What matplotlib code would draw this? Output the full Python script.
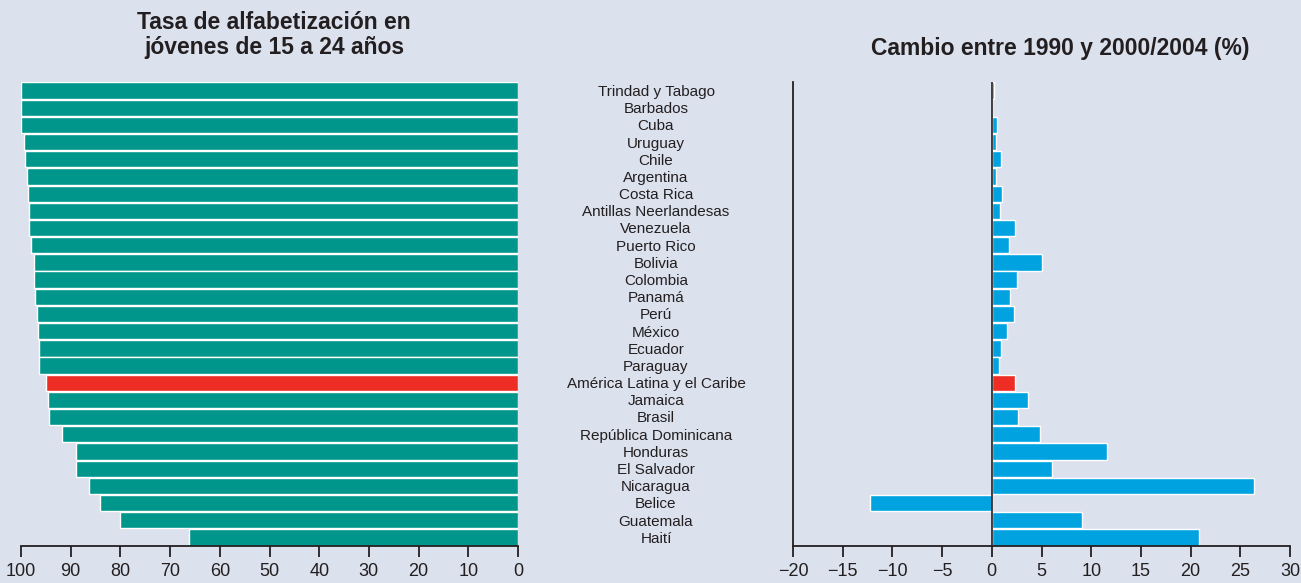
import matplotlib
matplotlib.use("Agg")
import matplotlib.pyplot as plt
import matplotlib.transforms as mtransforms
from matplotlib import font_manager

names = {f.name for f in font_manager.fontManager.ttflist}
FONT = 'Liberation Sans Narrow' if 'Liberation Sans Narrow' in names else 'Liberation Sans'
TFONT = 'Liberation Sans'
plt.rcParams['font.family'] = [FONT, 'DejaVu Sans']

countries = ["Trindad y Tabago", "Barbados", "Cuba", "Uruguay", "Chile", "Argentina",
             "Costa Rica", "Antillas Neerlandesas", "Venezuela", "Puerto Rico", "Bolivia",
             "Colombia", "Panamá", "Perú", "México", "Ecuador", "Paraguay",
             "América Latina y el Caribe", "Jamaica", "Brasil", "República Dominicana",
             "Honduras", "El Salvador", "Nicaragua", "Belice", "Guatemala", "Haití"]
literacy = [99.9, 99.9, 99.9, 99.3, 99.1, 98.7, 98.5, 98.4, 98.3, 97.9, 97.4,
            97.3, 97.1, 96.7, 96.6, 96.4, 96.3, 94.9, 94.6, 94.4, 91.8,
            88.9, 88.9, 86.3, 84.2, 80.1, 66.2]
change = [0.2, 0.0, 0.5, 0.4, 0.9, 0.4, 1.0, 0.8, 2.3, 1.7, 5.1,
          2.5, 1.8, 2.2, 1.5, 0.9, 0.7, 2.3, 3.6, 2.6, 4.8,
          11.6, 6.1, 26.4, -12.3, 9.1, 20.8]
highlight = "América Latina y el Caribe"
left_ticks = [100, 90, 80, 70, 60, 50, 40, 30, 20, 10, 0]
right_ticks = [-20, -15, -10, -5, 0, 5, 10, 15, 20, 25, 30]
title_left = "Tasa de alfabetización en\njóvenes de 15 a 24 años"
title_right = "Cambio entre 1990 y 2000/2004 (%)"

BG = "#DCE1EE"
TEAL = "#00968C"
BLUE = "#00A3E0"
RED = "#EE2D24"
INK = "#231F20"

W, H = 1301, 583
fig = plt.figure(figsize=(W / 100, H / 100), dpi=100, facecolor=BG)

n = len(countries)
ypos = [n - 1 - i for i in range(n)]

def px_axes(x0, x1, ytop, ybot):
    return fig.add_axes([x0 / W, 1 - ybot / H, (x1 - x0) / W, (ybot - ytop) / H])

axL = px_axes(21, 518, 82, 546)
axR = px_axes(793, 1290, 82, 546)

for ax in (axL, axR):
    ax.set_facecolor("none")
    ax.set_ylim(-0.5, n - 0.5)
    ax.set_yticks([])
    for s in ("top", "right", "left"):
        ax.spines[s].set_visible(False)
    ax.spines["bottom"].set_color(INK)
    ax.spines["bottom"].set_linewidth(1.3)
    ax.tick_params(axis="x", direction="out", length=8, width=1.3, color=INK,
                   labelsize=13, labelcolor=INK, pad=4)

colsL = [RED if c == highlight else TEAL for c in countries]
colsR = [RED if c == highlight else BLUE for c in countries]

axL.barh(ypos, literacy, height=0.95, color=colsL, edgecolor="white", linewidth=1.0)
axL.set_xlim(100, 0)
axL.set_xticks(left_ticks)
axL.set_xticklabels([str(t) for t in left_ticks])

axR.barh(ypos, change, height=0.95, color=colsR, edgecolor="white", linewidth=1.0)
axR.set_xlim(-20, 30)
axR.set_xticks(right_ticks)
axR.set_xticklabels([("\u2212" + str(-t)) if t < 0 else str(t) for t in right_ticks])
axR.spines["left"].set_visible(True)
axR.spines["left"].set_color(INK)
axR.spines["left"].set_linewidth(1.3)
axR.axvline(0, color=INK, lw=1.2, zorder=3)

trans = mtransforms.blended_transform_factory(fig.transFigure, axL.transData)
for c, y in zip(countries, ypos):
    fig.text(656 / W, y - 0.08, c, transform=trans, ha="center", va="center",
             fontsize=11, color=INK)

fig.text(274 / W, 1 - 35 / H, title_left, ha="center", va="center",
         fontsize=16.5, fontweight="bold", color=INK, linespacing=1.1,
         family=[TFONT, 'DejaVu Sans'])
fig.text(1060 / W, 1 - 48 / H, title_right, ha="center", va="center",
         fontsize=16.5, fontweight="bold", color=INK,
         family=[TFONT, 'DejaVu Sans'])

fig.savefig("out.png", dpi=100, facecolor=BG)
